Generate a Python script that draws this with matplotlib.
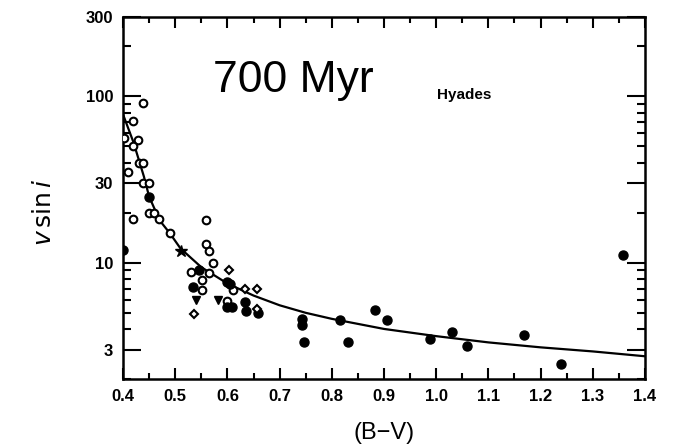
import matplotlib.pyplot as plt
from matplotlib.ticker import FixedLocator, NullFormatter, MultipleLocator

# Hyades: projected rotation velocity against colour
open_bv = [0.438, 0.419, 0.429, 0.419, 0.402, 0.431, 0.438, 0.410, 0.438, 0.450,
           0.450, 0.460, 0.469, 0.419, 0.490, 0.559, 0.559, 0.565, 0.572, 0.530,
           0.564, 0.551, 0.551, 0.611, 0.600]
open_v = [91, 71, 55, 50, 56, 40, 40, 35, 30, 30,
          20, 20, 18.2, 18.2, 15, 18, 12.9, 11.8, 10, 8.85,
          8.7, 7.9, 6.9, 6.9, 5.9]

filled_bv = [0.400, 0.450, 0.545, 0.535, 0.600, 0.605, 0.599, 0.609, 0.634, 0.636,
             0.659, 0.743, 0.743, 0.747, 0.816, 0.831, 0.883, 0.906, 0.988, 1.030,
             1.059, 1.168, 1.239, 1.358]
filled_v = [12.0, 25, 9.1, 7.1, 7.7, 7.4, 5.45, 5.4, 5.8, 5.15,
            5.0, 4.6, 4.25, 3.35, 4.55, 3.35, 5.2, 4.55, 3.5, 3.85,
            3.17, 3.7, 2.47, 11.2]

diamond_bv = [0.603, 0.634, 0.657, 0.536, 0.657]
diamond_v = [9.0, 7.0, 7.0, 4.9, 5.3]

tri_bv = [0.539, 0.582]
tri_v = [6.0, 6.0]

star_bv = [0.512]
star_v = [11.8]

# fitted relation
fit_bv = [0.40, 0.42, 0.44, 0.45, 0.47, 0.49, 0.51, 0.55, 0.60, 0.65, 0.70,
          0.75, 0.80, 0.90, 1.00, 1.10, 1.20, 1.30, 1.40]
fit_v = [78, 53, 33, 25, 18, 15, 12.2, 9.4, 7.5, 6.35, 5.55,
         5.0, 4.6, 4.0, 3.62, 3.32, 3.1, 2.93, 2.74]

x_ticks = [0.4, 0.5, 0.6, 0.7, 0.8, 0.9, 1.0, 1.1, 1.2, 1.3, 1.4]
y_ticks = [3, 10, 30, 100, 300]

plt.rcParams['font.family'] = ['Liberation Sans', 'DejaVu Sans']

fig = plt.figure(figsize=(6.77, 4.48), dpi=100)
ax = fig.add_axes([0.1817, 0.154, 0.771, 0.808])

ax.plot(fit_bv, fit_v, color='black', lw=1.6, zorder=2)
ax.plot(open_bv, open_v, 'o', ms=5.5, mfc='white', mec='black', mew=1.5, zorder=3)
ax.plot(filled_bv, filled_v, 'o', ms=6.5, color='black', zorder=3)
ax.plot(diamond_bv, diamond_v, 'D', ms=4.5, mfc='white', mec='black', mew=1.5, zorder=3)
ax.plot(tri_bv, tri_v, 'v', ms=6, color='black', zorder=3)
ax.plot(star_bv, star_v, '*', ms=9, color='black', zorder=3)

ax.set_yscale('log')
ax.set_xlim(0.4, 1.4)
ax.set_ylim(2, 300)

ax.xaxis.set_major_locator(FixedLocator(x_ticks))
ax.xaxis.set_minor_locator(MultipleLocator(0.05))
ax.set_xticklabels([f'{t:.1f}' for t in x_ticks])
ax.yaxis.set_major_locator(FixedLocator(y_ticks))
ax.set_yticklabels([str(t) for t in y_ticks])
ax.yaxis.set_minor_locator(FixedLocator(
    [2, 4, 5, 6, 7, 8, 9, 20, 40, 50, 60, 70, 80, 90, 200]))
ax.yaxis.set_minor_formatter(NullFormatter())

ax.tick_params(axis='both', which='both', direction='in', top=True, right=True,
               width=1.5, labelsize=12)
ax.tick_params(axis='x', which='major', length=8, pad=7)
ax.tick_params(axis='x', which='minor', length=4)
ax.tick_params(axis='y', which='major', length=13, pad=7)
ax.tick_params(axis='y', which='minor', length=6)
for lab in ax.get_xticklabels() + ax.get_yticklabels():
    lab.set_fontweight('bold')
for s in ax.spines.values():
    s.set_linewidth(1.8)

ax.set_xlabel('(B\u2212V)', fontsize=17)
ax.xaxis.set_label_coords(0.5, -0.118)
ax.set_ylabel(r'$v\,\mathrm{sin}\,i$', fontsize=18)
ax.yaxis.set_label_coords(-0.128, 0.46)

ax.text(0.326, 0.826, '700 Myr', transform=ax.transAxes, ha='center', va='center',
        fontsize=32)
ax.text(0.653, 0.785, 'Hyades', transform=ax.transAxes, ha='center', va='center',
        fontsize=11, fontweight='bold')

fig.savefig('out.png', dpi=100)
